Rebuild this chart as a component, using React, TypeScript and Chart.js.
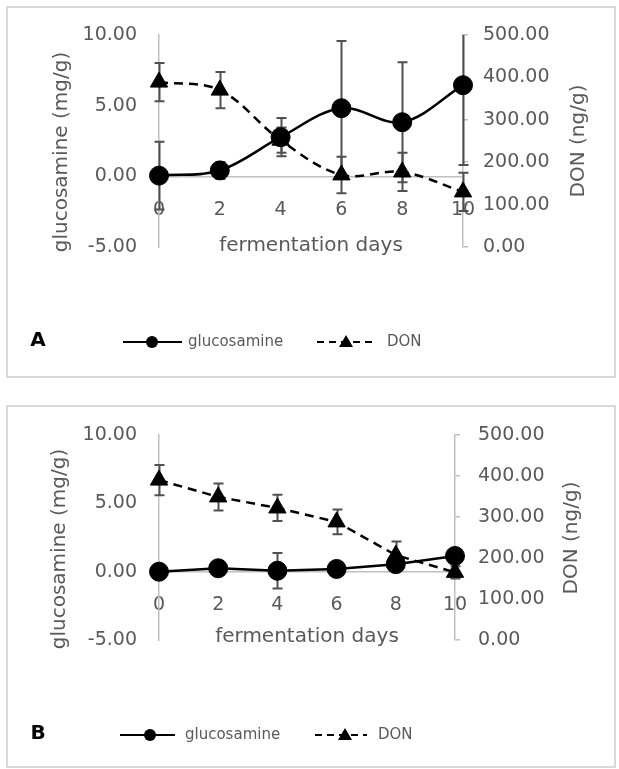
import React, { useEffect, useRef } from 'react';
import { Chart, registerables } from 'chart.js';
Chart.register(...registerables);

// ---- data ----
const days = [0, 2, 4, 6, 8, 10];
const dayTicks = [0, 2, 4, 6, 8, 10];
const glucTicks = [-5, 0, 5, 10];
const donTicks = [0, 100, 200, 300, 400, 500];

const glucosamineA = [0.05, 0.42, 2.77, 4.82, 3.83, 6.45];
const glucosamineErrA = [2.4, 0.6, 1.35, 4.75, 4.25, 5.65];
const donA = [389, 370, 252, 170, 177, 130];
const donErrA = [45, 43, 30, 43, 45, 45];

const glucosamineB = [0.0, 0.25, 0.07, 0.2, 0.55, 1.15];
const glucosamineErrB = [0.4, 0.3, 1.3, 0.3, 0.4, 0.4];
const donB = [390, 349, 322, 288, 207, 165];
const donErrB = [37, 33, 32, 30, 33, 15];

const seriesNames = ['glucosamine', 'DON'];
const xTitle = 'fermentation days';
const leftTitle = 'glucosamine (mg/g)';
const rightTitle = 'DON (ng/g)';
const panelTags = ['A', 'B'];

// ---- styling / layout ----
const FONT = '"DejaVu Sans", sans-serif';
const TEXT = '#595959';
const AXIS = '#bfbfbf';
const ERR = '#505050';

type Panel = {
  tag: string;
  gluc: number[]; glucErr: number[]; don: number[]; donErr: number[];
  tension: number;
  width: number; height: number;
  area: { left: number; right: number; top: number; bottom: number };
  rightTickPad: number; xTitlePad: number;
  leftTitle: { x: number; y: number };
  rightTitle: { x: number; y: number };
  legend: { y: number; solid: [number, number]; circleX: number; glucX: number; dashed: [number, number]; triX: number; donX: number };
  tagPos: { x: number; y: number };
};

const panelA: Panel = {
  tag: panelTags[0],
  gluc: glucosamineA, glucErr: glucosamineErrA, don: donA, donErr: donErrA,
  tension: 0.35,
  width: 619, height: 390,
  area: { left: 159, right: 463, top: 35, bottom: 247 },
  rightTickPad: 15, xTitlePad: -9,
  leftTitle: { x: 62, y: 152 },
  rightTitle: { x: 579, y: 141 },
  legend: { y: 342, solid: [123, 182], circleX: 152, glucX: 188, dashed: [317, 375], triX: 346, donX: 387 },
  tagPos: { x: 38, y: 341 },
};

const panelB: Panel = {
  tag: panelTags[1],
  gluc: glucosamineB, glucErr: glucosamineErrB, don: donB, donErr: donErrB,
  tension: 0,
  width: 619, height: 379,
  area: { left: 159, right: 455, top: 45, bottom: 250 },
  rightTickPad: 18, xTitlePad: -14,
  leftTitle: { x: 60, y: 159 },
  rightTitle: { x: 572, y: 148 },
  legend: { y: 345, solid: [120, 175], circleX: 150, glucX: 185, dashed: [315, 367], triX: 345, donX: 378 },
  tagPos: { x: 38, y: 344 },
};

const errorBarPlugin = {
  id: 'errorBars',
  beforeDatasetsDraw(chart: any) {
    const ctx = chart.ctx as CanvasRenderingContext2D;
    const area = chart.chartArea;
    ctx.save();
    ctx.beginPath();
    ctx.rect(area.left - 20, area.top, area.right - area.left + 40, area.bottom - area.top);
    ctx.clip();
    ctx.strokeStyle = ERR;
    ctx.lineWidth = 2;
    chart.data.datasets.forEach((ds: any) => {
      const ys = chart.scales[ds.yAxisID];
      const xs = chart.scales.x;
      ds.data.forEach((pt: any, j: number) => {
        const e = ds.errors[j];
        const x = Math.round(xs.getPixelForValue(pt.x)) + 0.5;
        const y1 = ys.getPixelForValue(pt.y + e);
        const y2 = ys.getPixelForValue(pt.y - e);
        ctx.beginPath();
        ctx.moveTo(x, y1); ctx.lineTo(x, y2);
        ctx.moveTo(x - 5, y1); ctx.lineTo(x + 5, y1);
        ctx.moveTo(x - 5, y2); ctx.lineTo(x + 5, y2);
        ctx.stroke();
      });
    });
    ctx.restore();
  },
};

function makeChart(canvas: HTMLCanvasElement, p: Panel) {
  const decor = {
    id: 'decor',
    afterDraw(chart: any) {
      const ctx = chart.ctx as CanvasRenderingContext2D;
      ctx.save();
      // axis titles (rotated, reading bottom to top)
      ctx.fillStyle = TEXT;
      ctx.font = `20px ${FONT}`;
      ctx.textAlign = 'center';
      ctx.textBaseline = 'middle';
      for (const [t, pos] of [[leftTitle, p.leftTitle], [rightTitle, p.rightTitle]] as [string, { x: number; y: number }][]) {
        ctx.save();
        ctx.translate(pos.x, pos.y);
        ctx.rotate(-Math.PI / 2);
        ctx.fillText(t, 0, 0);
        ctx.restore();
      }
      // panel tag
      ctx.fillStyle = '#000';
      ctx.font = `bold 20px ${FONT}`;
      ctx.fillText(p.tag, p.tagPos.x, p.tagPos.y);
      // legend
      const L = p.legend;
      ctx.strokeStyle = '#000';
      ctx.fillStyle = '#000';
      ctx.lineWidth = 2;
      ctx.beginPath();
      ctx.moveTo(L.solid[0], L.y); ctx.lineTo(L.solid[1], L.y);
      ctx.stroke();
      ctx.beginPath();
      ctx.arc(L.circleX, L.y, 6, 0, Math.PI * 2);
      ctx.fill();
      ctx.setLineDash([7, 5]);
      ctx.beginPath();
      ctx.moveTo(L.dashed[0], L.y); ctx.lineTo(L.dashed[1], L.y);
      ctx.stroke();
      ctx.setLineDash([]);
      ctx.beginPath();
      ctx.moveTo(L.triX, L.y - 7);
      ctx.lineTo(L.triX + 7, L.y + 5);
      ctx.lineTo(L.triX - 7, L.y + 5);
      ctx.closePath();
      ctx.fill();
      ctx.fillStyle = TEXT;
      ctx.font = `15px ${FONT}`;
      ctx.textAlign = 'left';
      ctx.fillText(seriesNames[0], L.glucX, L.y);
      ctx.fillText(seriesNames[1], L.donX, L.y);
      ctx.restore();
    },
  };

  const tickFmt = (v: any) => Number(v).toFixed(2);

  return new Chart(canvas, {
    type: 'line',
    data: {
      datasets: [
        {
          label: seriesNames[1],
          data: days.map((d, i) => ({ x: d, y: p.don[i] })),
          errors: p.donErr,
          yAxisID: 'y2',
          borderColor: '#000',
          backgroundColor: '#000',
          borderWidth: 2.5,
          borderDash: [9, 6],
          pointStyle: 'triangle',
          pointRadius: 10,
          pointBorderWidth: 1,
          tension: p.tension,
          clip: false,
          order: 0,
        } as any,
        {
          label: seriesNames[0],
          data: days.map((d, i) => ({ x: d, y: p.gluc[i] })),
          errors: p.glucErr,
          yAxisID: 'y',
          borderColor: '#000',
          backgroundColor: '#000',
          borderWidth: 2.5,
          pointStyle: 'circle',
          pointRadius: 9.5,
          pointBorderWidth: 1,
          tension: p.tension,
          clip: false,
          order: 1,
        } as any,
      ],
    },
    options: {
      responsive: false,
      animation: false,
      events: [],
      layout: { padding: { top: p.area.top, bottom: p.height - p.area.bottom, left: 0, right: 0 } },
      plugins: { legend: { display: false }, tooltip: { enabled: false } },
      scales: {
        x: {
          type: 'linear',
          position: { y: 0 } as any,
          min: dayTicks[0],
          max: dayTicks[dayTicks.length - 1],
          grid: { display: false, drawTicks: false },
          border: { display: true, color: AXIS, width: 1.5 },
          ticks: {
            stepSize: dayTicks[1] - dayTicks[0],
            padding: 22,
            color: TEXT,
            font: { family: FONT, size: 19 },
            maxRotation: 0,
            autoSkip: false,
          },
          title: {
            display: true,
            text: xTitle,
            color: TEXT,
            font: { family: FONT, size: 20 },
            padding: { top: p.xTitlePad, bottom: 0 },
          },
        },
        y: {
          type: 'linear',
          position: 'left',
          min: glucTicks[0],
          max: glucTicks[glucTicks.length - 1],
          grid: { display: false, drawTicks: false },
          border: { display: true, color: AXIS, width: 1.5 },
          ticks: {
            stepSize: glucTicks[1] - glucTicks[0],
            callback: tickFmt,
            padding: 22,
            color: TEXT,
            font: { family: FONT, size: 19 },
          },
          afterFit: (s: any) => { s.width = p.area.left; },
        },
        y2: {
          type: 'linear',
          position: 'right',
          min: donTicks[0],
          max: donTicks[donTicks.length - 1],
          grid: { display: true, drawOnChartArea: false, drawTicks: true, tickLength: 5, color: AXIS, lineWidth: 1.5 },
          border: { display: true, color: AXIS, width: 1.5 },
          ticks: {
            stepSize: donTicks[1] - donTicks[0],
            callback: tickFmt,
            padding: p.rightTickPad,
            color: TEXT,
            font: { family: FONT, size: 19 },
          },
          afterFit: (s: any) => { s.width = p.width - p.area.right; },
        },
      },
    } as any,
    plugins: [errorBarPlugin, decor],
  });
}

export default function App() {
  const refA = useRef<HTMLCanvasElement>(null);
  const refB = useRef<HTMLCanvasElement>(null);
  useEffect(() => {
    const a = makeChart(refA.current!, panelA);
    const b = makeChart(refB.current!, panelB);
    return () => { a.destroy(); b.destroy(); };
  }, []);
  return (
    <div style={{ position: 'absolute', left: 0, top: 0, width: 619, height: 769, background: '#fff' }}>
      <div style={{ position: 'absolute', left: 6, top: 6, width: 610, height: 372, border: '2px solid #d9d9d9', boxSizing: 'border-box' }} />
      <div style={{ position: 'absolute', left: 6, top: 405, width: 610, height: 363, border: '2px solid #d9d9d9', boxSizing: 'border-box' }} />
      <canvas ref={refA} width={619} height={390} style={{ position: 'absolute', left: 0, top: 0 }} />
      <canvas ref={refB} width={619} height={379} style={{ position: 'absolute', left: 0, top: 390 }} />
    </div>
  );
}
